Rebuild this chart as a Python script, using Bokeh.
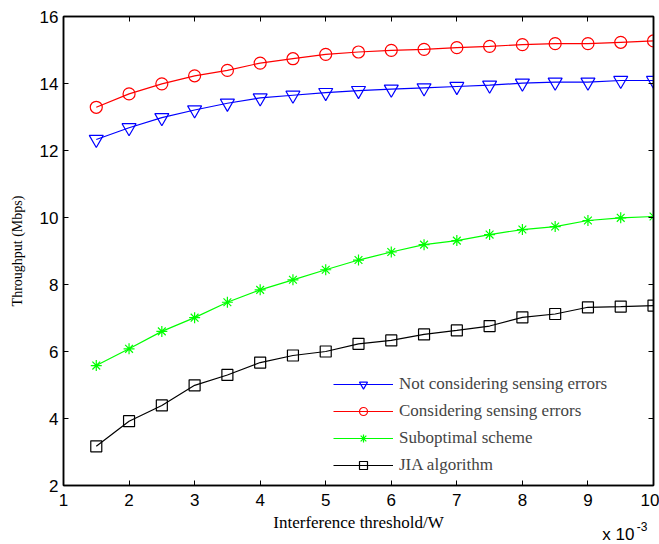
from bokeh.plotting import figure
from bokeh.models import LinearAxis, Legend, LegendItem, Title, FixedTicker, Range1d
from bokeh.embed import file_html
from bokeh.resources import INLINE

x_vals = [1.5, 2, 2.5, 3, 3.5, 4, 4.5, 5, 5.5, 6, 6.5, 7, 7.5, 8, 8.5, 9, 9.5, 10]
not_considering = [12.33, 12.68, 12.98, 13.21, 13.41, 13.57, 13.65, 13.73, 13.79, 13.83,
                   13.87, 13.91, 13.95, 14.01, 14.04, 14.04, 14.09, 14.09]
considering = [13.29, 13.69, 13.99, 14.23, 14.39, 14.61, 14.74, 14.87, 14.94, 14.99,
               15.02, 15.07, 15.11, 15.16, 15.19, 15.19, 15.23, 15.27]
suboptimal = [5.58, 6.08, 6.60, 7.01, 7.47, 7.84, 8.14, 8.44, 8.73, 8.97,
              9.19, 9.31, 9.49, 9.64, 9.73, 9.91, 9.99, 10.03]
jia = [3.17, 3.92, 4.39, 4.99, 5.30, 5.67, 5.88, 6.00, 6.23, 6.33,
       6.51, 6.63, 6.76, 7.02, 7.12, 7.32, 7.34, 7.37]

x_ticks = [1, 2, 3, 4, 5, 6, 7, 8, 9, 10]
y_ticks = [2, 4, 6, 8, 10, 12, 14, 16]

series = [
    ("Not considering sensing errors", not_considering, "#0000FF", "inverted_triangle", 14),
    ("Considering sensing errors", considering, "#FF0000", "circle", 12),
    ("Suboptimal scheme", suboptimal, "#00FF00", "asterisk", 11),
    ("JIA algorithm", jia, "#000000", "square", 11),
]

p = figure(width=659, height=544, output_backend="svg", toolbar_location=None,
           x_range=Range1d(1, 10), y_range=Range1d(2, 16),
           min_border_left=63, min_border_right=6, min_border_top=16, min_border_bottom=59)
p.xgrid.visible = False
p.ygrid.visible = False
p.outline_line_color = "black"
p.outline_line_width = 1.5
p.background_fill_color = "white"
p.border_fill_color = "white"

TICK_FONT = "Liberation Sans"
SERIF = "Liberation Serif"

for ax in (p.xaxis[0], p.yaxis[0]):
    ax.major_tick_in = 5
    ax.major_tick_out = 0
    ax.minor_tick_in = 0
    ax.minor_tick_out = 0
    ax.axis_line_width = 1.5
    ax.major_tick_line_width = 1
    ax.major_label_text_font = TICK_FONT
    ax.major_label_text_font_size = "17px"
    ax.major_label_text_color = "black"
    ax.axis_label_text_font = SERIF
    ax.axis_label_text_font_style = "normal"
    ax.axis_label_text_color = "black"
p.xaxis[0].ticker = FixedTicker(ticks=x_ticks)
p.yaxis[0].ticker = FixedTicker(ticks=y_ticks)
p.xaxis[0].axis_label = "Interference threshold/W"
p.yaxis[0].axis_label = "Throughput (Mbps)"
p.xaxis[0].axis_label_text_font_size = "17px"
p.yaxis[0].axis_label_text_font_size = "14px"
p.xaxis[0].major_label_standoff = 8
p.yaxis[0].major_label_standoff = 5
p.xaxis[0].axis_label_standoff = 4
p.yaxis[0].axis_label_standoff = 12

for place, ticks in (("above", x_ticks), ("right", y_ticks)):
    ax = LinearAxis(ticker=FixedTicker(ticks=ticks), major_label_text_font_size="0px",
                    major_label_standoff=0, major_tick_in=5, major_tick_out=0,
                    minor_tick_in=0, minor_tick_out=0, axis_line_width=1.5)
    p.add_layout(ax, place)

items = []
for name, vals, color, marker, size in series:
    r1 = p.line(x_vals, vals, line_color=color, line_width=1.2)
    r2 = p.scatter(x_vals, vals, marker=marker, size=size, line_color=color,
                   fill_alpha=0, line_width=1.2)
    items.append(LegendItem(label=name, renderers=[r1, r2]))

legend = Legend(items=items, location=(270, 10), glyph_width=60, glyph_height=20,
                spacing=7, padding=0, margin=0, label_standoff=6,
                label_text_font=SERIF, label_text_font_size="17px",
                border_line_alpha=0, background_fill_alpha=0)
p.add_layout(legend, "center")

# scale factor note "x 10^-3" below the x axis, at the right
exp_title = Title(text="-3", align="right", offset=6, vertical_align="top",
                  standoff=-26, text_font=TICK_FONT, text_font_size="12px",
                  text_font_style="normal", text_color="black")
mul_title = Title(text="x 10", align="right", offset=19, vertical_align="top",
                  standoff=-20, text_font=TICK_FONT, text_font_size="17px",
                  text_font_style="normal", text_color="black")
p.add_layout(exp_title, "below")
p.add_layout(mul_title, "below")

open("out.html", "w").write(file_html(p, INLINE))
